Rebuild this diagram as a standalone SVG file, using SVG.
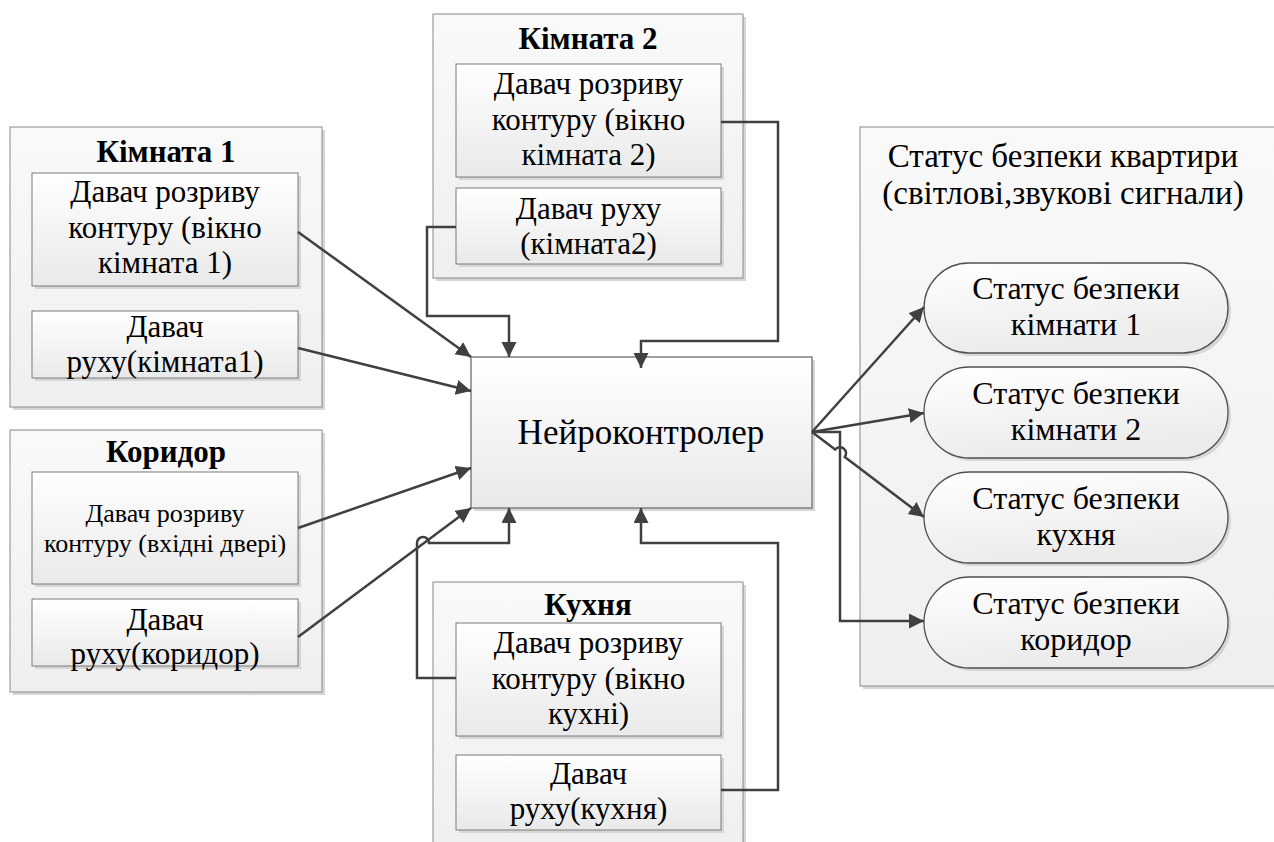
<svg xmlns="http://www.w3.org/2000/svg" width="1274" height="842" viewBox="0 0 1274 842" font-family="'Liberation Serif', 'DejaVu Serif', serif">
  <style>
    text { font-family: 'Liberation Serif', 'DejaVu Serif', serif; }
    .t { fill: #000; text-anchor: middle; }
    .f31 { font-size: 31px; }
    .f26 { font-size: 26px; }
    .f32 { font-size: 32px; }
    .f33 { font-size: 33px; }
    .f35 { font-size: 35px; }
    .hd { font-size: 31px; font-weight: bold; }
    .shadow { fill: #d6d6d6; }
    .group-box { fill: url(#gGroup); stroke: #8a8a8a; stroke-width: 1; }
    .box { fill: url(#gBox); stroke: #7a7a7a; stroke-width: 1; }
    .core { fill: url(#gBox); stroke: #808080; stroke-width: 1.5; }
    .pill { fill: url(#gPill); stroke: #505050; stroke-width: 1.3; }
    .wire { fill: none; stroke: #404040; stroke-width: 2.5; }
    .arr { marker-end: url(#head); }
  </style>
  <defs>
    <linearGradient id="gGroup" x1="0" y1="0" x2="0" y2="1">
      <stop offset="0" stop-color="#f9f9f9"/>
      <stop offset="1" stop-color="#efefef"/>
    </linearGradient>
    <linearGradient id="gBox" x1="0" y1="0" x2="0" y2="1">
      <stop offset="0" stop-color="#ffffff"/>
      <stop offset="1" stop-color="#e9e9e9"/>
    </linearGradient>
    <linearGradient id="gPill" x1="0" y1="0" x2="0.3" y2="1">
      <stop offset="0" stop-color="#ffffff"/>
      <stop offset="1" stop-color="#ebebeb"/>
    </linearGradient>
    <marker id="head" markerUnits="userSpaceOnUse" markerWidth="16" markerHeight="16" refX="15" refY="7.5" orient="auto" viewBox="0 0 16 16">
      <path d="M0,0 L15,7.5 L0,15 z" fill="#404040"/>
    </marker>
  </defs>

  <rect width="1274" height="842" fill="#ffffff"/>

  <!-- Room 1 -->
  <g id="room1">
    <rect class="shadow" x="13" y="130" width="312" height="280"/>
    <rect class="group-box" x="10" y="127" width="312" height="280"/>
    <text class="t hd" x="166" y="162">Кімната 1</text>
    <g id="room1-window">
      <rect class="shadow" x="35" y="176" width="266" height="113"/>
      <rect class="box" x="32" y="173" width="266" height="113"/>
      <text class="t f31" x="165" y="202">Давач розриву</text>
      <text class="t f31" x="165" y="237.5">контуру (вікно</text>
      <text class="t f31" x="165" y="273">кімната 1)</text>
    </g>
    <g id="room1-motion">
      <rect class="shadow" x="35" y="314" width="266" height="67"/>
      <rect class="box" x="32" y="311" width="266" height="67"/>
      <text class="t f31" x="165" y="337">Давач</text>
      <text class="t f31" x="165" y="372">руху(кімната1)</text>
    </g>
  </g>

  <!-- Room 2 -->
  <g id="room2">
    <rect class="shadow" x="436" y="17" width="310" height="264"/>
    <rect class="group-box" x="433" y="14" width="310" height="264"/>
    <text class="t hd" x="588" y="49">Кімната 2</text>
    <g id="room2-window">
      <rect class="shadow" x="459" y="67" width="265" height="113"/>
      <rect class="box" x="456" y="64" width="265" height="113"/>
      <text class="t f31" x="588.5" y="94">Давач розриву</text>
      <text class="t f31" x="588.5" y="129.5">контуру (вікно</text>
      <text class="t f31" x="588.5" y="165">кімната 2)</text>
    </g>
    <g id="room2-motion">
      <rect class="shadow" x="459" y="191" width="265" height="76"/>
      <rect class="box" x="456" y="188" width="265" height="76"/>
      <text class="t f31" x="588.5" y="219">Давач руху</text>
      <text class="t f31" x="588.5" y="254">(кімната2)</text>
    </g>
  </g>

  <!-- Corridor -->
  <g id="corridor">
    <rect class="shadow" x="13" y="433" width="312" height="262"/>
    <rect class="group-box" x="10" y="430" width="312" height="262"/>
    <text class="t hd" x="166" y="462">Коридор</text>
    <g id="corridor-door">
      <rect class="shadow" x="35" y="475" width="266" height="112"/>
      <rect class="box" x="32" y="472" width="266" height="112"/>
      <text class="t f26" x="165" y="522">Давач розриву</text>
      <text class="t f26" x="165" y="552">контуру (вхідні двері)</text>
    </g>
    <g id="corridor-motion">
      <rect class="shadow" x="35" y="602" width="266" height="67"/>
      <rect class="box" x="32" y="599" width="266" height="67"/>
      <text class="t f31" x="165" y="630">Давач</text>
      <text class="t f31" x="165" y="664">руху(коридор)</text>
    </g>
  </g>

  <!-- Kitchen -->
  <g id="kitchen">
    <rect class="shadow" x="436" y="585" width="310" height="280"/>
    <rect class="group-box" x="433" y="582" width="310" height="280"/>
    <text class="t hd" x="588" y="615">Кухня</text>
    <g id="kitchen-window">
      <rect class="shadow" x="459" y="626" width="265" height="113"/>
      <rect class="box" x="456" y="623" width="265" height="113"/>
      <text class="t f31" x="588.5" y="653">Давач розриву</text>
      <text class="t f31" x="588.5" y="688.5">контуру (вікно</text>
      <text class="t f31" x="588.5" y="724">кухні)</text>
    </g>
    <g id="kitchen-motion">
      <rect class="shadow" x="459" y="758" width="265" height="75"/>
      <rect class="box" x="456" y="755" width="265" height="75"/>
      <text class="t f31" x="588.5" y="784">Давач</text>
      <text class="t f31" x="588.5" y="819">руху(кухня)</text>
    </g>
  </g>

  <!-- Flat security status panel -->
  <g id="status-panel">
    <rect class="shadow" x="863" y="130" width="440" height="559"/>
    <rect class="group-box" x="860" y="127" width="440" height="559"/>
    <text class="t f33" x="1063" y="167">Статус безпеки квартири</text>
    <text class="t f33" x="1063" y="204">(світлові,звукові сигнали)</text>
    <g id="status-room1">
      <rect class="shadow" x="927" y="266" width="304" height="90" rx="45"/>
      <rect class="pill" x="924" y="263" width="304" height="90" rx="45"/>
      <text class="t f32" x="1076" y="299">Статус безпеки</text>
      <text class="t f32" x="1076" y="335">кімнати 1</text>
    </g>
    <g id="status-room2">
      <rect class="shadow" x="927" y="370" width="304" height="91" rx="45.5"/>
      <rect class="pill" x="924" y="367" width="304" height="91" rx="45.5"/>
      <text class="t f32" x="1076" y="404">Статус безпеки</text>
      <text class="t f32" x="1076" y="440">кімнати 2</text>
    </g>
    <g id="status-kitchen">
      <rect class="shadow" x="927" y="475" width="304" height="91" rx="45.5"/>
      <rect class="pill" x="924" y="472" width="304" height="91" rx="45.5"/>
      <text class="t f32" x="1076" y="509">Статус безпеки</text>
      <text class="t f32" x="1076" y="545">кухня</text>
    </g>
    <g id="status-corridor">
      <rect class="shadow" x="927" y="580" width="304" height="91" rx="45.5"/>
      <rect class="pill" x="924" y="577" width="304" height="91" rx="45.5"/>
      <text class="t f32" x="1076" y="614">Статус безпеки</text>
      <text class="t f32" x="1076" y="650">коридор</text>
    </g>
  </g>

  <!-- Neurocontroller -->
  <g id="controller">
    <rect class="shadow" x="474" y="360" width="341" height="151"/>
    <rect class="core" x="471" y="357" width="341" height="151"/>
    <text class="t f35" x="641" y="444">Нейроконтролер</text>
  </g>

  <!-- Connectors -->
  <g id="connectors">
    <path class="wire arr" d="M298,232 L471,357"/>
    <path class="wire arr" d="M298,348 L471,391"/>
    <path class="wire arr" d="M298,528 L471,468"/>
    <path class="wire arr" d="M298,637 L471,508"/>
    <path class="wire arr" d="M456,227 H427 V316 H509 V357"/>
    <path class="wire arr" d="M721,122 H778 V341 H641 V368"/>
    <path class="wire arr" d="M456,678 H417 V543 A6,6 0 0 1 429,543 H509 V508"/>
    <path class="wire arr" d="M721,790 H778 V543 H641 V508"/>
    <path class="wire arr" d="M812,432 L924,307"/>
    <path class="wire arr" d="M812,432 L924,413"/>
    <path class="wire arr" d="M812,432 L835.2,449.6 A6,6 0 0 1 844.8,456.9 L924,517"/>
    <path class="wire arr" d="M812,432 H840 V621 H924"/>
  </g>
</svg>
